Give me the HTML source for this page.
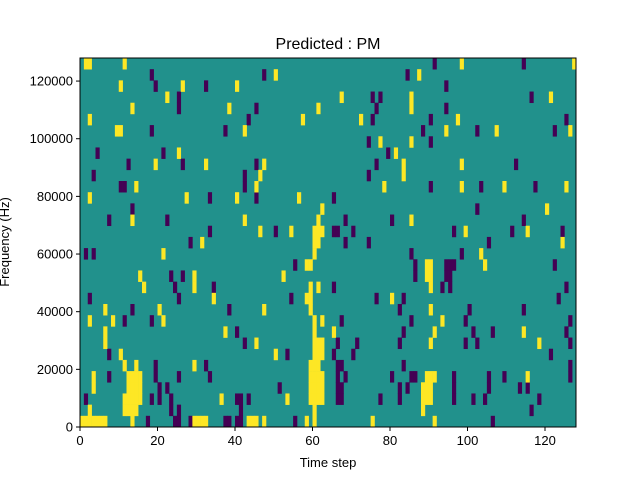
<!DOCTYPE html>
<html><head><meta charset="utf-8"><style>
body{margin:0;background:#fff}
svg text{font-family:"Liberation Sans","DejaVu Sans",sans-serif;fill:#000}
</style></head><body>
<svg id="chart" width="640" height="480" viewBox="0 0 640 480" xmlns="http://www.w3.org/2000/svg">
<rect width="640" height="480" fill="#fff"/>
<text x="328" y="49" font-size="16" text-anchor="middle">Predicted : PM</text>
<rect x="80" y="58" width="496" height="369" fill="#21918c"/>
<g id="cells"></g>
<rect x="80" y="58" width="496" height="369" fill="none" stroke="#000" stroke-width="1"/>
<g id="xaxis"></g>
<g id="yaxis"></g>
<text x="328" y="467" font-size="13" text-anchor="middle">Time step</text>
<text x="9" y="242" font-size="13" text-anchor="middle" transform="rotate(-90 9 242)">Frequency (Hz)</text>
</svg>
<script>
const nSteps = 128;
const nBins = 33;
const maxFreq = 128000;
const xTicks = [0, 20, 40, 60, 80, 100, 120];
const yTicks = [0, 20000, 40000, 60000, 80000, 100000, 120000];
const purpleByRow = [
[91,114],[18,47,84],[19,32,94],[25,75,77,116],[25,45,76,94],[43,75,90,125],
[18,37,88,102,122],[74,90],[4,21,79],[12,26,45,76,112],[3,42,74],
[10,11,42,90,103,117],[33,45,65],[13,102],[7,22,68,80,114],
[33,50,65,66,70,96,111,124],[28,68,74,105],[1,3,85,98],[55,86,94,95,96,122],
[23,26,86,94,95],[24,34,65,93,95,125],[2,25,54,76,83,123],[13,38,82,100,114],
[11,18,67,85,99,126],[40,83,101,106,125],[42,66,71,82,99,102,126],
[7,53,65,70,121],[19,32,66,67,83,126],
[7,19,25,33,66,68,80,85,86,96,105,109,126],
[20,22,51,66,67,82,84,96,105,113,115],
[1,18,20,23,40,41,43,66,67,77,82,96,101,104,118],
[23,25,41,116],[17,24,25,28,37,38,40,41,55,106]
];
const yellowByRow = [
[1,2,11,98,127],[50,87],[10,26,40],[22,67,85,121],[13,38,61,85],[2,57,72,97],
[9,10,42,94,107,126],[77,85],[25,81],[19,32,47,83,98],[46,83],
[14,45,78,98,109,125],[2,27,40,56],[62,120],[13,42,61,85],
[46,54,60,61,62,99,115],[31,60,61,124],[21,60,103],[58,59,89,90,104],
[15,29,52,89,90],[16,29,59,61,90],[34,58,59,80],[6,20,47,59,90],
[2,8,21,60,62,93],[6,37,60,65,91,114],[6,45,60,61,62,90,118],
[10,50,60,61,62],[11,14,29,59,60,61],
[3,12,13,14,15,59,60,61,62,89,90,91,115],
[3,12,13,14,15,59,60,61,62,88,89,90],
[11,12,13,14,15,36,53,59,60,61,62,88,89,90],
[2,11,12,13,14,60,88],
[0,1,2,3,4,5,6,13,29,30,31,32,43,44,45,47,58,60,75,91]
];
const NS='http://www.w3.org/2000/svg';
const X0=80,X1=576,Y0=58,Y1=427;
function xScale(t){return X0+t*(X1-X0)/nSteps;}
function rowY(r){return Y0+r*(Y1-Y0)/nBins;}
function yScale(v){return Y1-v/maxFreq*(Y1-Y0);}
const cells=document.getElementById('cells');
function drawCells(rows,color,kind){
  rows.forEach((cols,r)=>{cols.forEach(t=>{
    const el=document.createElementNS(NS,'rect');
    
    
    el.setAttribute('x',xScale(t));
    el.setAttribute('y',rowY(r));
    el.setAttribute('width',xScale(t+1)-xScale(t)+0.3);
    el.setAttribute('height',rowY(r+1)-rowY(r)+0.3);
    el.setAttribute('fill',color);
    cells.appendChild(el);
  });});
}
drawCells(purpleByRow,'#440154','low');
drawCells(yellowByRow,'#fde725','high');
const xa=document.getElementById('xaxis');
xTicks.forEach(v=>{
  const x=xScale(v);
  const l=document.createElementNS(NS,'line');
  
  
  l.setAttribute('x1',x);l.setAttribute('x2',x);l.setAttribute('y1',Y1);l.setAttribute('y2',Y1+4);
  l.setAttribute('stroke','#000');xa.appendChild(l);
  const tx=document.createElementNS(NS,'text');
  
  
  tx.setAttribute('x',x);tx.setAttribute('y',Y1+18);tx.setAttribute('font-size','13');tx.setAttribute('text-anchor','middle');
  tx.textContent=v;xa.appendChild(tx);
});
const ya=document.getElementById('yaxis');
yTicks.forEach(v=>{
  const y=yScale(v);
  const l=document.createElementNS(NS,'line');
  
  
  l.setAttribute('x1',X0-4);l.setAttribute('x2',X0);l.setAttribute('y1',y);l.setAttribute('y2',y);
  l.setAttribute('stroke','#000');ya.appendChild(l);
  const tx=document.createElementNS(NS,'text');
  
  
  tx.setAttribute('x',X0-7);tx.setAttribute('y',y+4.5);tx.setAttribute('font-size','13');tx.setAttribute('text-anchor','end');
  tx.textContent=v;ya.appendChild(tx);
});
</script>
</body></html>
